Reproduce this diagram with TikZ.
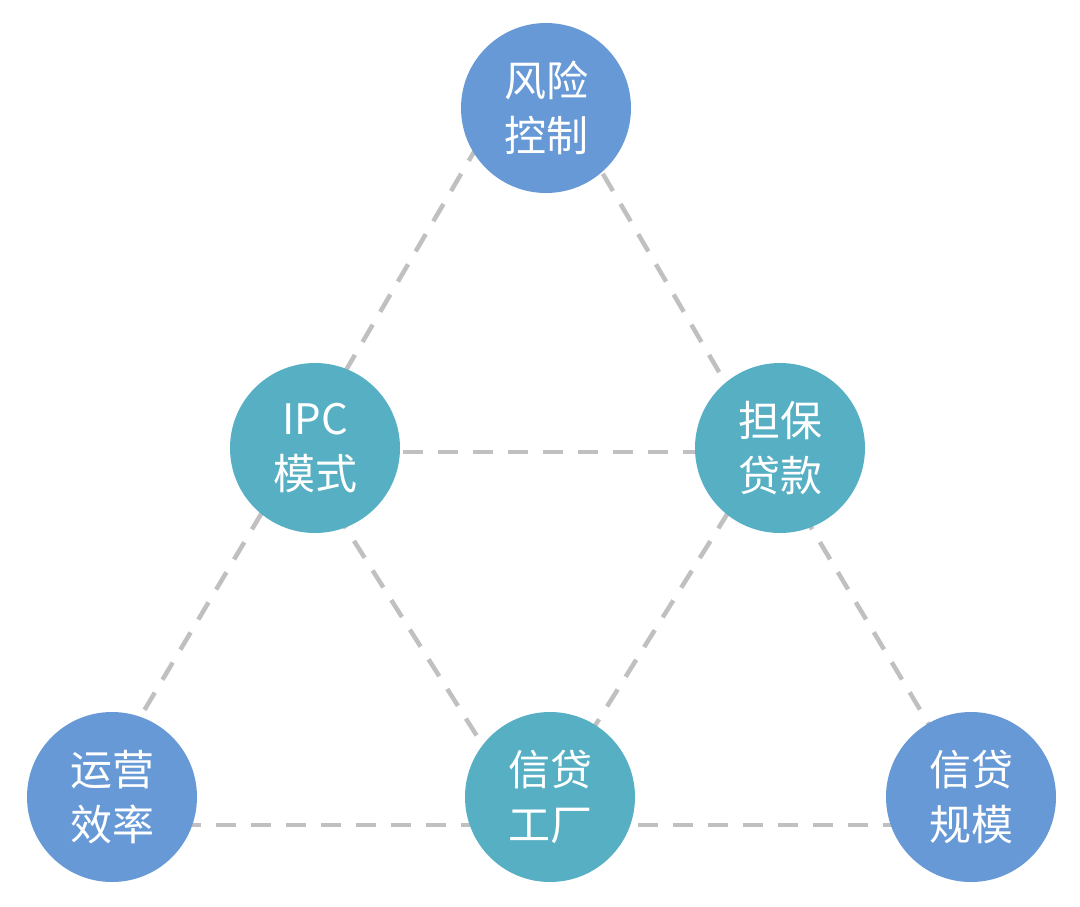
\documentclass[tikz,border=0pt]{standalone}
\usepackage{fontspec}
\newfontfamily\cjk{Noto Sans CJK SC}
\definecolor{cblue}{HTML}{6699D6}
\definecolor{cteal}{HTML}{56AFC3}
\definecolor{cgray}{HTML}{C0C0C0}
\begin{document}
\begin{tikzpicture}[x=1pt,y=-1pt,
  link/.style={draw=cgray,line width=4.5pt,dash pattern=on 20pt off 15pt},
  bub/.style={circle,minimum size=170pt,inner sep=0pt,text=white,
    font=\cjk\fontsize{42}{55}\selectfont,align=center},
  corner/.style={bub,fill=cblue},
  inner/.style={bub,fill=cteal}]
\useasboundingbox (0,0) rectangle (1080,906);
% triangle vertices
\coordinate (A) at (532,53);
\coordinate (ML) at (298,452);
\coordinate (MR) at (766,452);
\coordinate (BL) at (76,825);
\coordinate (BM) at (533,825);
\coordinate (BR) at (989,825);
% dashed links
\draw[link] (A) -- (ML);
\draw[link] (A) -- (MR);
\draw[link] (ML) -- (BL);
\draw[link] (MR) -- (BR);
\draw[link] (ML) -- (MR);
\draw[link] (ML) -- (BM);
\draw[link] (MR) -- (BM);
\draw[link] (BL) -- (BM);
\draw[link] (BM) -- (BR);
% circles
\node[corner] (risk) at (546,108) {风险\\控制};
\node[inner] (ipc) at (315,448) {IPC\\模式};
\node[inner] (guar) at (780,448) {担保\\贷款};
\node[corner] (ops) at (112,797) {运营\\效率};
\node[inner] (fact) at (550,797) {信贷\\工厂};
\node[corner] (scale) at (971,797) {信贷\\规模};
\end{tikzpicture}
\end{document}
